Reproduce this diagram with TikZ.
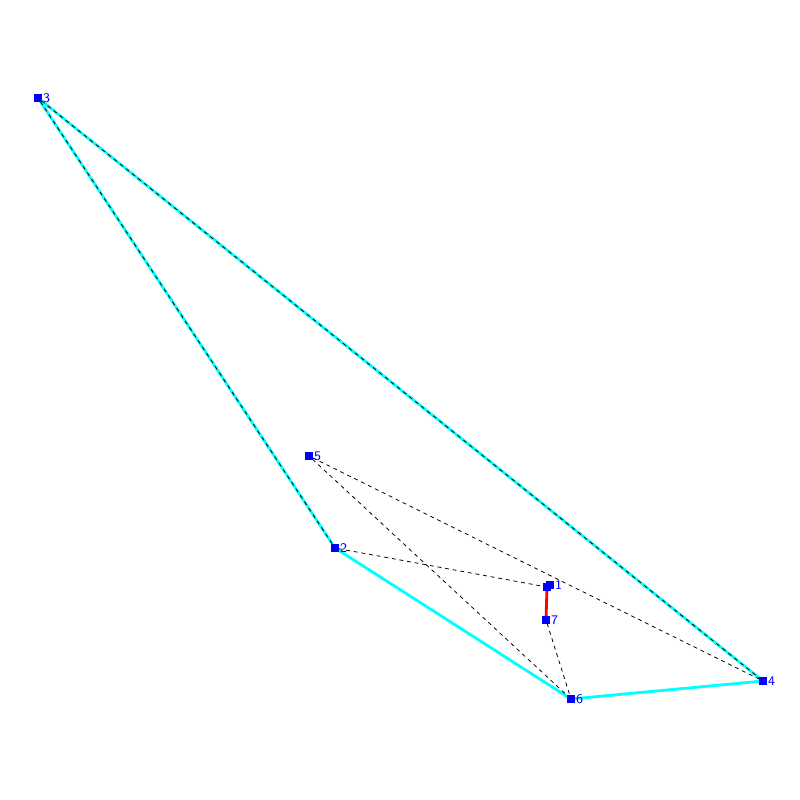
\documentclass[tikz,border=0pt]{standalone}
\usepackage{tikz}
\usetikzlibrary{backgrounds}
\definecolor{hullcyan}{RGB}{0,255,255}
\definecolor{ptblue}{RGB}{0,0,255}
\definecolor{fixred}{RGB}{255,0,0}

\begin{document}
\begin{tikzpicture}[x=0.02cm, y=-0.02cm,
    main/.style = {draw=ptblue, fill=ptblue, rectangle, minimum size=0.13cm, inner sep=0pt},
    lbl/.style = {text=ptblue, font=\fontsize{7.5}{8}\sffamily, inner sep=0.6pt},
    hull/.style = {hullcyan, line width=1.6pt},
    cut/.style = {black, line width=0.45pt, dash pattern=on 2.2pt off 2.2pt},
    fix/.style = {fixred, line width=1.6pt}]
            \useasboundingbox (0,0) rectangle (800,800);
            \node[main, label={[lbl]right:3}] (3) at (38,98) {};
            \node[main, label={[lbl]right:5}] (5) at (309,456) {};
            \node[main, label={[lbl]right:2}] (2) at (335,548) {};
            \node[main] (1) at (547,587) {};
            \node[main, label={[lbl]right:1}] (1b) at (550,585) {};
            \node[main, label={[lbl]right:7}] (7) at (546,620) {};
            \node[main, label={[lbl]right:6}] (6) at (571,699) {};
            \node[main, label={[lbl]right:4}] (4) at (763,681) {};

            \begin{pgfonlayer}{background}
            \path[hull] (3) edge (2) (3) edge (4) (2) edge (6) (6) edge (4);

            \path[cut] (3) edge (2) (3) edge (4);

            \path[cut] (5) edge (6) (5) edge (4) (2) edge (1) (7) edge (6);

            \path[fix] (1) edge (7);
            \end{pgfonlayer}
        \end{tikzpicture}
\end{document}
